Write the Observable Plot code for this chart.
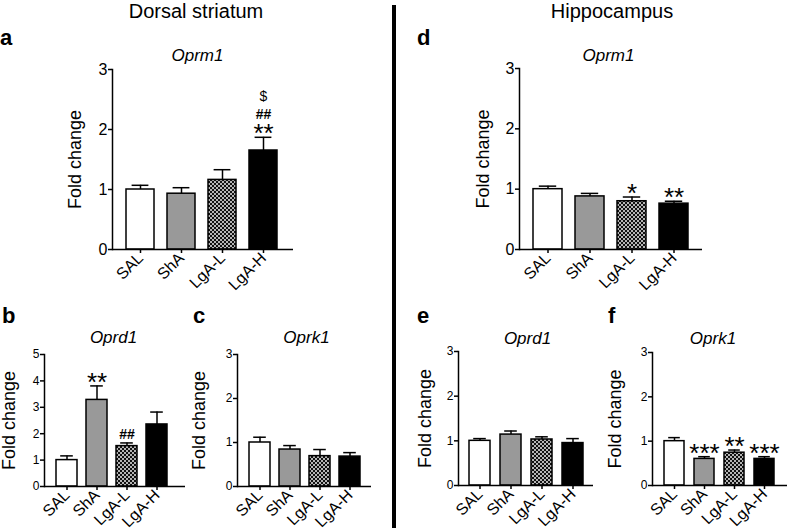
<!DOCTYPE html>
<html><head><meta charset="utf-8">
<script src="https://cdn.jsdelivr.net/npm/d3@7"></script>
<script src="https://cdn.jsdelivr.net/npm/@observablehq/plot@0.6"></script>
<style>
html,body{margin:0;padding:0;background:#fff;overflow:hidden}
#fig{position:relative;width:787px;height:528px;overflow:hidden;font-family:"Liberation Sans",Arial,Helvetica,sans-serif}
#fig svg{position:absolute}
</style></head><body><div id="fig"></div>
<script>
// ---------- data ----------
const groups = ["SAL", "ShA", "LgA-L", "LgA-H"];
const regions = ["Dorsal striatum", "Hippocampus"];
const yLabel = "Fold change";

// Dorsal striatum
const dsOprm1Mean = [1.00, 0.93, 1.16, 1.65];
const dsOprm1Sem  = [0.07, 0.10, 0.17, 0.22];
const dsOprd1Mean = [1.00, 3.28, 1.53, 2.35];
const dsOprd1Sem  = [0.16, 0.53, 0.12, 0.47];
const dsOprk1Mean = [1.00, 0.84, 0.69, 0.68];
const dsOprk1Sem  = [0.12, 0.09, 0.15, 0.09];
// Hippocampus
const hpOprm1Mean = [1.00, 0.88, 0.80, 0.76];
const hpOprm1Sem  = [0.05, 0.05, 0.07, 0.04];
const hpOprd1Mean = [1.00, 1.14, 1.03, 0.95];
const hpOprd1Sem  = [0.05, 0.08, 0.06, 0.10];
const hpOprk1Mean = [1.00, 0.60, 0.74, 0.60];
const hpOprk1Sem  = [0.08, 0.05, 0.06, 0.05];

// significance marks (row = stacking order above the error bar)
const dsOprm1Ann = [{group:"LgA-H", label:"**", row:0}, {group:"LgA-H", label:"##", row:1}, {group:"LgA-H", label:"$", row:2}];
const dsOprd1Ann = [{group:"ShA", label:"**", row:0}, {group:"LgA-L", label:"##", row:0}];
const dsOprk1Ann = [];
const hpOprm1Ann = [{group:"LgA-L", label:"*", row:0}, {group:"LgA-H", label:"**", row:0}];
const hpOprd1Ann = [];
const hpOprk1Ann = [{group:"ShA", label:"***", row:0}, {group:"LgA-L", label:"**", row:0}, {group:"LgA-H", label:"***", row:0}];

// ---------- style / layout ----------
const FONT = '"Liberation Sans", Arial, Helvetica, sans-serif';
const fills = ["#ffffff", "#999999", "url(#checker)", "#000000"];
const symStyle = {
  "*": {fontSize: 26, fontWeight: "normal", base: 5},
  "#": {fontSize: 14, fontWeight: "bold", base: -4},
  "$": {fontSize: 14, fontWeight: "normal", base: -8}
};
const rowGap = 14;

const panels = [
  {letter:"a", gene:"Oprm1", mean:dsOprm1Mean, sem:dsOprm1Sem, ann:dsOprm1Ann, ymax:3, big:true,
   L:112, R:293, T:69, B:249, pI:0.328, pO:0.336, align:0.46, labelDx:-32, titleDx:-5.5, titleDy:-9},
  {letter:"b", gene:"Oprd1", mean:dsOprd1Mean, sem:dsOprd1Sem, ann:dsOprd1Ann, ymax:5, big:false,
   L:44, R:185, T:354, B:486, pI:0.31, pO:0.474, align:0.41, labelDx:-30, titleDx:-1.5, titleDy:-12},
  {letter:"c", gene:"Oprk1", mean:dsOprk1Mean, sem:dsOprk1Sem, ann:dsOprk1Ann, ymax:3, big:false,
   L:237, R:371, T:354, B:486, pI:0.316, pO:0.34, align:0.53, labelDx:-33, titleDx:2, titleDy:-12},
  {letter:"d", gene:"Oprm1", mean:hpOprm1Mean, sem:hpOprm1Sem, ann:hpOprm1Ann, ymax:3, big:true,
   L:519, R:702, T:68, B:249, pI:0.31, pO:0.333, align:0.5, labelDx:-31, titleDx:-2.5, titleDy:-8},
  {letter:"e", gene:"Oprd1", mean:hpOprd1Mean, sem:hpOprd1Sem, ann:hpOprd1Ann, ymax:3, big:false,
   L:458, R:593, T:351, B:485, pI:0.33, pO:0.32, align:0.5, labelDx:-28, titleDx:1.5, titleDy:-8},
  {letter:"f", gene:"Oprk1", mean:hpOprk1Mean, sem:hpOprk1Sem, ann:hpOprk1Ann, ymax:3, big:false,
   L:652, R:787, T:352, B:485, pI:0.32, pO:0.35, align:0.5, labelDx:-32, titleDx:-7, titleDy:-9}
];
const letterPos = {a:[0,45], b:[2,323], c:[193,323], d:[417,45], e:[417,323], f:[608,323]};
const regionPos = [[196,18], [612,18]];

// ---------- overlay: defs, headings, letters, separator ----------
const fig = d3.select("#fig");
const over = fig.append("svg").attr("width", 787).attr("height", 528)
  .style("left", "0px").style("top", "0px").style("font-family", FONT);
const pat = over.append("defs").append("pattern").attr("id", "checker")
  .attr("width", 4).attr("height", 4).attr("patternUnits", "userSpaceOnUse");
pat.append("rect").attr("width", 4).attr("height", 4).attr("fill", "#b5b5b5");
pat.append("rect").attr("width", 2).attr("height", 2).attr("fill", "#111");
pat.append("rect").attr("x", 2).attr("y", 2).attr("width", 2).attr("height", 2).attr("fill", "#111");

regions.forEach((r, i) => over.append("text").attr("x", regionPos[i][0]).attr("y", regionPos[i][1])
  .attr("text-anchor", "middle").attr("font-size", 20).text(r));
over.append("rect").attr("x", 392).attr("y", 5).attr("width", 4).attr("height", 523).attr("fill", "#000");
panels.forEach(p => over.append("text").attr("x", letterPos[p.letter][0]).attr("y", letterPos[p.letter][1])
  .attr("font-size", 22).attr("font-weight", "bold").text(p.letter));

// ---------- panels ----------
function drawPanel(p) {
  const ML = 90, MR = 12, MT = 50, MB = 50;
  const width = ML + (p.R - p.L) + MR, height = MT + (p.B - p.T) + MB;
  const data = groups.map((g, i) => ({group: g, mean: p.mean[i], top: p.mean[i] + p.sem[i]}));
  const topOf = new Map(data.map(d => [d.group, d.top]));
  const step = (p.R - p.L) / (groups.length - p.pI + 2 * p.pO);
  const bw = step * (1 - p.pI);
  const capInset = bw * 0.2;
  const xSize = 16, ySize = p.big ? 16 : 12;
  const marks = [
    Plot.barY(data, {x: "group", y: "mean", fill: "group", stroke: "black", strokeWidth: 1.5}),
    Plot.ruleX(data, {x: "group", y1: "mean", y2: "top", strokeWidth: 1.5}),
    Plot.tickY(data, {x: "group", y: "top", insetLeft: capInset, insetRight: capInset, strokeWidth: 1.5}),
    Plot.ruleY([0], {strokeWidth: 1.5}),
    Plot.frame({anchor: "left", strokeWidth: 1.5}),
    Plot.axisY({ticks: d3.range(0, p.ymax + 1), tickFormat: d3.format("d"), tickSize: 4, tickPadding: 1,
      label: null, strokeWidth: 1.5, fontSize: ySize}),
    Plot.axisX({tickRotate: -45, tickSize: 4, tickPadding: 2, label: null, strokeWidth: 1.5, fontSize: xSize}),
    Plot.text([yLabel], {text: d => d, frameAnchor: "left", textAnchor: "middle", rotate: -90, dx: p.labelDx,
      lineAnchor: "bottom", fontSize: 18}),
    Plot.text([p.gene], {text: d => d, frameAnchor: "top", textAnchor: "middle", dx: p.titleDx, dy: p.titleDy,
      lineAnchor: "bottom", fontSize: 17, fontStyle: "italic"})
  ];
  p.ann.forEach(a => {
    const s = symStyle[a.label[0]];
    marks.push(Plot.text([a], {x: "group", y: d => topOf.get(d.group), text: "label",
      lineAnchor: "bottom", dy: s.base - a.row * rowGap, fontSize: s.fontSize, fontWeight: s.fontWeight}));
  });
  const chart = Plot.plot({
    width, height, marginLeft: ML, marginRight: MR, marginTop: MT, marginBottom: MB,
    x: {domain: groups, paddingInner: p.pI, paddingOuter: p.pO, align: p.align},
    y: {domain: [0, p.ymax]},
    color: {domain: groups, range: fills},
    marks
  });
  chart.style.position = "absolute";
  chart.style.left = (p.L - ML) + "px";
  chart.style.top = (p.T - MT) + "px";
  chart.style.background = "transparent";
  chart.style.overflow = "visible";
  chart.style.maxWidth = "none";
  chart.style.fontFamily = FONT;
  document.getElementById("fig").appendChild(chart);
}
panels.forEach(drawPanel);
</script>
</body></html>
